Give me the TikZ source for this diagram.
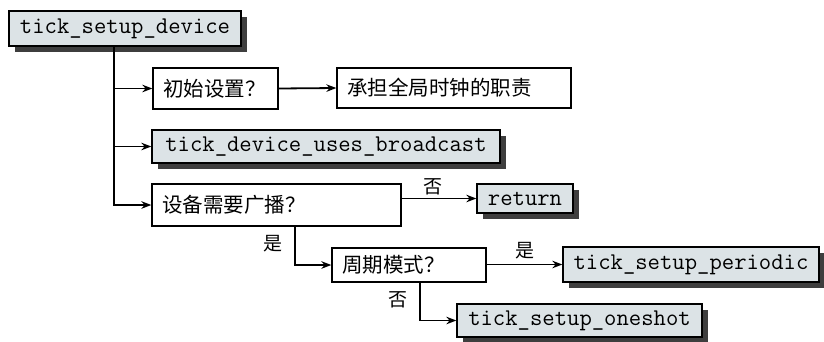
\documentclass[tikz,border=0pt]{standalone}
\usepackage{fontspec}
\newfontfamily\cjk{Noto Sans CJK SC}
\usetikzlibrary{arrows.meta,shadows}
\definecolor{boxfill}{RGB}{220,227,230}
\definecolor{shade}{RGB}{62,62,62}
\begin{document}
\begin{tikzpicture}[x=1pt,y=-1pt,
  func/.style={draw=black, line width=1.3pt, fill=boxfill, inner sep=0pt,
    font=\fontsize{24}{26}\ttfamily,
    drop shadow={shadow xshift=6pt, shadow yshift=-6pt, fill=shade, opacity=1}},
  cond/.style={draw=black, line width=1.3pt, fill=white, inner xsep=10pt, inner ysep=0pt,
    font=\cjk\fontsize{20.5}{24}\selectfont, align=left},
  lbl/.style={font=\cjk\fontsize{19}{22}\selectfont, inner sep=0pt},
  conn/.style={line width=1.8pt, -{Stealth[length=10pt,width=7.5pt]}}]
\useasboundingbox (0,0) rectangle (824,341);
\node[func, minimum width=232pt, minimum height=35pt] (dev) at (125,28.5) {tick\_setup\_device};
\node[cond, text width=105pt, minimum height=41pt] (init) at (215.5,88.5) {初始设置？};
\node[cond, text width=214pt, minimum height=40pt] (glob) at (454,88) {承担全局时钟的职责};
\node[func, minimum width=348pt, minimum height=33pt] (bc) at (326,146.5) {tick\_device\_uses\_broadcast};
\node[cond, text width=229pt, minimum height=42pt] (need) at (276.5,205) {设备需要广播？};
\node[func, minimum width=96pt, minimum height=29pt] (ret) at (525,198.5) {return};
\node[cond, text width=134pt, minimum height=34pt] (per) at (409,265) {周期模式？};
\node[func, minimum width=256pt, minimum height=35pt] (perf) at (691,264.5) {tick\_setup\_periodic};
\node[func, minimum width=245pt, minimum height=33pt] (one) at (579.5,320.5) {tick\_setup\_oneshot};
\coordinate (trunk) at ([xshift=-11pt]dev.south);
\coordinate (needout) at ([xshift=18.5pt]need.south);
\coordinate (perout) at ([xshift=11pt]per.south);
\draw[conn] (trunk) |- (need.west);
\draw[conn] (init.west -| trunk) -- (init.west);
\draw[conn] (bc.west -| trunk) -- (bc.west);
\draw[conn] (init.east) -- (glob.west);
\draw[conn] (need.east |- ret.west) -- (ret.west);
\draw[conn] (needout) |- (per.west);
\draw[conn] (per.east |- perf.west) -- (perf.west);
\draw[conn] (perout) |- (one.west);
\node[lbl] (no1) at (433,187) {否};
\node[lbl] (yes1) at (273,244) {是};
\node[lbl] (yes2) at (525,251) {是};
\node[lbl] (no2) at (398,300) {否};
\end{tikzpicture}
\end{document}
